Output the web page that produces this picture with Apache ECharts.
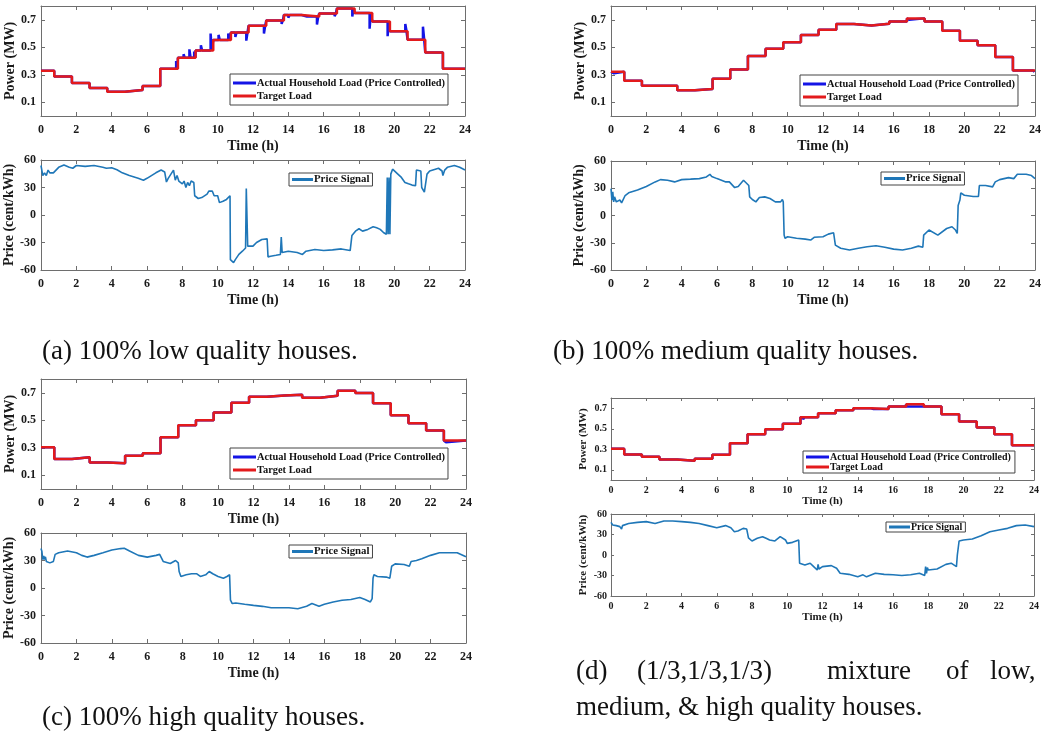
<!DOCTYPE html>
<html>
<head>
<meta charset="utf-8">
<script src="https://cdn.jsdelivr.net/npm/echarts@6/dist/echarts.min.js"></script>
<style>
html, body { margin: 0; padding: 0; background: #fff; }
#main { width: 1043px; height: 746px; }
</style>
</head>
<body>
<div id="main"></div>
<script>
// hour at which each load step starts
var hourSteps = [0, 0.75, 1.75, 2.75, 3.75, 4.75, 5.75, 6.75, 7.75, 8.75, 9.75, 10.75,
  11.75, 12.75, 13.75, 14.75, 15.75, 16.75, 17.75, 18.75, 19.75, 20.75, 21.75, 22.75];

// target load levels (MW)
var loadA = [0.33, 0.288, 0.24, 0.204, 0.177, 0.189, 0.218, 0.343, 0.423, 0.476, 0.553, 0.608,
  0.657, 0.695, 0.734, 0.724, 0.746, 0.782, 0.75, 0.688, 0.616, 0.555, 0.461, 0.343];
var loadB = [0.322, 0.257, 0.22, 0.22, 0.187, 0.196, 0.271, 0.339, 0.437, 0.49, 0.536, 0.589,
  0.628, 0.669, 0.659, 0.671, 0.688, 0.71, 0.688, 0.62, 0.548, 0.514, 0.43, 0.331];
var loadC = [0.304, 0.219, 0.231, 0.193, 0.188, 0.241, 0.26, 0.376, 0.463, 0.5, 0.557, 0.628,
  0.671, 0.68, 0.685, 0.664, 0.678, 0.714, 0.698, 0.623, 0.536, 0.478, 0.425, 0.352];
var loadD = [0.305, 0.25, 0.227, 0.2, 0.188, 0.208, 0.247, 0.358, 0.446, 0.495, 0.55, 0.612,
  0.651, 0.68, 0.7, 0.693, 0.716, 0.739, 0.716, 0.641, 0.57, 0.513, 0.446, 0.338];

// where the actual load leaves the target: [hour, MW]
var spikesA = [[7.65, 0.40], [8.07, 0.45], [8.4, 0.485], [8.67, 0.47], [9.05, 0.515], [9.6, 0.60],
  [10.05, 0.59], [10.6, 0.60], [11.0, 0.575], [11.62, 0.548], [12.62, 0.60], [13.62, 0.67],
  [14.0, 0.715], [15.05, 0.71], [15.62, 0.665], [16.62, 0.726], [17.1, 0.77], [17.62, 0.724],
  [18.6, 0.635], [19.62, 0.58], [20.62, 0.67], [21.62, 0.65], [22.9, 0.33]];
var spikesB = [[0.1, 0.31], [16.8, 0.70], [22.6, 0.42], [23.9, 0.32]];
var spikesC = [[22.8, 0.34]];
var spikesD = [[10.9, 0.59], [11.95, 0.64], [14.9, 0.68], [16.7, 0.72], [18.9, 0.625]];

// price signal: [hour, cent/kWh]
var priceA = [[0, 54], [0.1, 43], [0.2, 46], [0.3, 43], [0.4, 49], [0.5, 46], [0.7, 46], [1.0, 52],
  [1.3, 54.5], [1.6, 52], [1.8, 51], [2.0, 54], [2.5, 53], [3.0, 54], [3.5, 52], [3.7, 51], [4.0, 51.6],
  [4.3, 49.4], [4.6, 46], [5.0, 43], [5.5, 40], [5.8, 38], [6.0, 40], [6.5, 46], [6.8, 49], [7.0, 47],
  [7.1, 36], [7.2, 40], [7.3, 43], [7.4, 46], [7.5, 49], [7.6, 38], [7.7, 43], [7.8, 37], [8.0, 34],
  [8.1, 37], [8.2, 30], [8.3, 35.5], [8.4, 32], [8.5, 37], [8.6, 39], [8.65, 35.5], [8.7, 21], [8.9, 18],
  [9.1, 19], [9.2, 17], [9.4, 22.7], [9.5, 26], [9.6, 24.5], [9.7, 26], [9.8, 21], [10.0, 21], [10.1, 13.5],
  [10.3, 15], [10.5, 17], [10.6, 19], [10.7, 21], [10.72, -48.7], [10.8, -47], [10.9, -52], [11.0, -48.7],
  [11.2, -43], [11.4, -39.5], [11.58, -36], [11.62, 29], [11.67, 29], [11.7, -34], [11.8, -33], [12.0, -34],
  [12.2, -30], [12.5, -26.7], [12.8, -26], [12.85, -45.7], [13.0, -45], [13.3, -44], [13.55, -43],
  [13.6, -24], [13.65, -41], [14.0, -39.5], [14.5, -41], [14.8, -43], [15.0, -39.5], [15.5, -37.7],
  [16.0, -38.8], [16.5, -38], [17.0, -37], [17.5, -38.8], [17.6, -22.3], [17.8, -17.6], [18.0, -15],
  [18.2, -17.6], [18.5, -15.7], [18.8, -12.8], [19.0, -14], [19.2, -15.7], [19.4, -19.4], [19.55, -21],
  [19.6, 41], [19.65, -21], [19.7, 41], [19.75, -21], [19.8, 44.6], [19.9, 50], [20.0, 49], [20.2, 44.6],
  [20.4, 41], [20.6, 35.5], [20.8, 34], [21.0, 32.6], [21.2, 32], [21.25, 49], [21.5, 48], [21.55, 30],
  [21.7, 25], [21.8, 24.5], [21.85, 44.6], [22.0, 48], [22.5, 51], [22.7, 48], [22.75, 43], [22.85, 49],
  [23.0, 52], [23.4, 54], [23.7, 52], [24.0, 49]];
var priceB = [[0, 29.6], [0.05, 17], [0.1, 26], [0.15, 15], [0.2, 20.5], [0.3, 15], [0.5, 17], [0.6, 14],
  [0.8, 22], [1.0, 25], [1.5, 28], [2.0, 32], [2.5, 37], [2.8, 39.5], [3.2, 38.8], [3.6, 37], [4.0, 39.5],
  [4.5, 40], [5.0, 40.6], [5.4, 42.4], [5.6, 45.4], [5.7, 43], [6.0, 40.6], [6.5, 37], [6.7, 37], [7.0, 30.7],
  [7.2, 32], [7.5, 38.8], [7.6, 41], [7.8, 33], [7.85, 20.5], [8.0, 17.6], [8.2, 15], [8.4, 19.8], [8.7, 20.5],
  [9.0, 18.7], [9.3, 15], [9.6, 15], [9.7, 17.6], [9.75, 15], [9.8, -21.6], [9.85, -25], [10.0, -23.4],
  [10.5, -25], [11.0, -26], [11.3, -27], [11.5, -24], [12.0, -23.4], [12.3, -20.5], [12.6, -19], [12.65, -20],
  [12.7, -32.6], [13.0, -36], [13.5, -38], [14.0, -36], [14.5, -34.4], [15.0, -33.3], [15.5, -35], [16.0, -37],
  [16.5, -38], [17.0, -36], [17.4, -33.7], [17.65, -35], [17.7, -21.6], [18.0, -16], [18.5, -21.6],
  [19.0, -14.3], [19.3, -12.4], [19.5, -16], [19.6, -19.8], [19.65, 11], [19.75, 17], [19.8, 25], [20.0, 22.3],
  [20.5, 21], [20.8, 21], [20.85, 33], [21.2, 33], [21.6, 31.5], [21.75, 37], [22.0, 39.5], [22.5, 41.7],
  [22.8, 40.6], [23.0, 45.4], [23.5, 45.4], [23.8, 44], [24.0, 40.6]];
var priceC = [[0, 43], [0.05, 40], [0.1, 31], [0.15, 35], [0.2, 31], [0.25, 34], [0.3, 29], [0.5, 27.4],
  [0.6, 25.6], [0.7, 29], [0.8, 36.7], [1.0, 38.5], [1.5, 40.4], [2.0, 38.5], [2.3, 35.6], [2.6, 33.7],
  [3.0, 35.6], [3.5, 38.5], [4.0, 41.5], [4.5, 43], [4.7, 43.3], [5.0, 40.4], [5.5, 35.6], [6.0, 33.7],
  [6.5, 35.6], [6.7, 36.7], [6.9, 29], [7.0, 27.4], [7.3, 26.7], [7.6, 30], [7.75, 27.4], [7.8, 18],
  [7.9, 12.6], [8.2, 14.4], [8.5, 15.5], [8.8, 15.5], [9.0, 12.6], [9.3, 14.4], [9.5, 18], [9.7, 15.5],
  [10.0, 12.6], [10.3, 10.7], [10.5, 12.6], [10.65, 14.4], [10.7, -13.3], [10.8, -17], [11.0, -16.3],
  [11.5, -17.8], [12.0, -19], [12.5, -20], [13.0, -21.5], [13.5, -21.5], [14.0, -21.5], [14.5, -22.6],
  [15.0, -20], [15.3, -17], [15.7, -20], [16.0, -17.8], [16.5, -15.2], [17.0, -13.3], [17.5, -12.6],
  [18.0, -10.4], [18.3, -12.6], [18.6, -15.2], [18.7, -11.5], [18.75, 10.7], [18.8, 14.4], [19.0, 12.6],
  [19.5, 11.9], [19.7, 10.7], [19.8, 23.7], [20.0, 26.3], [20.5, 25.6], [20.8, 23.7], [20.9, 29], [21.2, 30],
  [21.5, 31.9], [22.0, 35.6], [22.5, 38.5], [23.0, 38.5], [23.5, 38.5], [24.0, 34]];
var priceD = [[0, 47.8], [0.1, 44], [0.3, 43], [0.5, 41.5], [0.6, 38], [0.65, 43], [1.0, 46], [1.5, 47.8],
  [2.0, 48.8], [2.5, 46], [3.0, 49.8], [3.5, 49.8], [4.0, 48.8], [4.5, 47.8], [5.0, 46], [5.5, 43], [6.0, 40],
  [6.5, 43], [6.8, 40], [7.0, 34], [7.2, 35], [7.5, 39], [7.7, 38], [7.8, 25], [8.0, 20.5], [8.3, 24.4],
  [8.6, 26.8], [8.8, 24.4], [9.0, 22], [9.3, 20.5], [9.6, 26.8], [9.9, 22], [10.0, 17], [10.3, 18.5],
  [10.5, 20.5], [10.65, 22], [10.7, -12], [11.0, -14.6], [11.3, -12], [11.5, -17], [11.7, -22], [11.75, -13.7],
  [11.8, -20.5], [12.0, -17], [12.5, -15.6], [12.8, -19.5], [13.0, -26.8], [13.5, -28.3], [14.0, -31.7],
  [14.3, -29], [14.5, -32], [15.0, -26.8], [15.5, -28.3], [16.0, -29], [16.5, -30], [17.0, -29], [17.5, -26.8],
  [17.8, -30], [17.85, -17], [17.9, -26.8], [17.95, -18.5], [18.0, -22], [18.5, -20.5], [19.0, -13.7],
  [19.3, -12], [19.6, -17], [19.65, 0], [19.7, 2.4], [19.75, 20.5], [20.0, 22], [20.5, 23.4], [21.0, 28.3],
  [21.5, 34], [22.0, 36.6], [22.5, 39], [23.0, 43], [23.5, 44], [24.0, 41.5]];

var powerTicks = [0.1, 0.3, 0.5, 0.7];
var actualName = 'Actual Household Load (Price Controlled)';
var targetName = 'Target Load';
var priceName = 'Price Signal';

var serif = '"Liberation Serif", "Times New Roman", serif';
var axisColor = '#6e6e6e';

function stepData(levels) {
  var d = hourSteps.map(function (h, i) { return [h, levels[i]]; });
  d.push([24, levels[levels.length - 1]]);
  return d;
}
function levelAt(levels, t) {
  var k = 0;
  for (var i = 0; i < hourSteps.length; i++) { if (hourSteps[i] <= t) k = i; }
  return levels[k];
}
function actualData(levels, spikes) {
  var d = stepData(levels);
  spikes.forEach(function (s) {
    d.push([s[0], s[1]]);
    d.push([s[0] + 0.07, levelAt(levels, s[0])]);
  });
  d.sort(function (a, b) { return a[0] - b[0]; });
  return d;
}

var grids = [], xAxes = [], yAxes = [], series = [], legends = [];

function addAxes(rect, isPower, small) {
  var gi = grids.length;
  grids.push({ left: rect[0], top: rect[1], width: rect[2], height: rect[3], containLabel: false, outerBoundsMode: 'none' });
  var fs = small ? 10 : 12;
  var nfs = small ? 11 : 14;
  var tick = { show: true, inside: true, length: small ? 3 : 4, lineStyle: { color: axisColor } };
  var line = { show: true, onZero: false, lineStyle: { color: axisColor, width: 1 } };
  var lab = { color: '#1a1a1a', fontFamily: serif, fontWeight: 'bold', fontSize: fs };
  xAxes.push({
    gridIndex: gi, type: 'value', min: 0, max: 24, interval: 2, position: 'bottom',
    name: 'Time (h)', nameLocation: 'middle', nameGap: small ? 16 : 23,
    nameTextStyle: { color: '#1a1a1a', fontFamily: serif, fontWeight: 'bold', fontSize: nfs },
    axisLine: line, axisTick: tick, splitLine: { show: false },
    axisLabel: Object.assign({ margin: small ? 5 : 8 }, lab)
  });
  xAxes.push({
    gridIndex: gi, type: 'value', min: 0, max: 24, interval: 2, position: 'top',
    axisLine: line, axisTick: tick, axisLabel: { show: false }, splitLine: { show: false }
  });
  var yl = {
    gridIndex: gi, type: 'value', position: 'left',
    name: isPower ? 'Power (MW)' : 'Price (cent/kWh)', nameLocation: 'middle', nameGap: small ? 22 : 20,
    nameTextStyle: { color: '#1a1a1a', fontFamily: serif, fontWeight: 'bold', fontSize: nfs },
    axisLine: line, splitLine: { show: false },
    axisTick: Object.assign({}, tick),
    axisLabel: Object.assign({ margin: small ? 4 : 5 }, lab)
  };
  var yr = {
    gridIndex: gi, type: 'value', position: 'right',
    axisLine: line, splitLine: { show: false }, axisLabel: { show: false },
    axisTick: Object.assign({}, tick)
  };
  [yl, yr].forEach(function (y) {
    if (isPower) {
      y.min = 0; y.max = 0.8;
      y.axisTick.customValues = powerTicks;
      y.axisLabel.customValues = powerTicks;
      y.axisLabel.formatter = function (v) { return v.toFixed(1); };
    } else {
      y.min = -60; y.max = 60; y.interval = 30;
    }
  });
  yAxes.push(yl, yr);
  return gi;
}

function addPower(rect, levels, spikes, legendBox, small) {
  var gi = addAxes(rect, true, small);
  series.push({
    name: actualName, type: 'line', xAxisIndex: 2 * gi, yAxisIndex: 2 * gi, step: 'end',
    showSymbol: false, symbol: 'none', lineStyle: { color: '#1414e6', width: 2.5 }, itemStyle: { color: '#1414e6' },
    data: actualData(levels, spikes), z: 2, animation: false
  });
  series.push({
    name: targetName, type: 'line', xAxisIndex: 2 * gi, yAxisIndex: 2 * gi, step: 'end',
    showSymbol: false, symbol: 'none', lineStyle: { color: '#e31a1c', width: 2.5 }, itemStyle: { color: '#e31a1c' },
    data: stepData(levels), z: 3, animation: false
  });
  legends.push({
    data: [actualName, targetName], orient: 'vertical', left: legendBox[0], top: legendBox[1],
    itemWidth: 23, itemHeight: 3, icon: 'rect', itemGap: small ? 0 : 3,
    padding: small ? [1, 4, 1, 3] : [4, 3, 4, 3], borderColor: '#444', borderWidth: 1, backgroundColor: '#fff',
    textStyle: { fontFamily: serif, fontWeight: 'bold', fontSize: small ? 10 : 10.4, color: '#111', padding: [0, 0, 0, -4] },
    selectedMode: false
  });
}

function addPrice(rect, data, legendBox, small) {
  var gi = addAxes(rect, false, small);
  series.push({
    name: priceName, type: 'line', xAxisIndex: 2 * gi, yAxisIndex: 2 * gi,
    showSymbol: false, symbol: 'none', lineStyle: { color: '#1f77b8', width: 1.6 }, itemStyle: { color: '#1f77b8' },
    data: data, animation: false
  });
  legends.push({
    data: [priceName], orient: 'vertical', left: legendBox[0], top: legendBox[1],
    itemWidth: 21, itemHeight: 3, icon: 'rect',
    padding: small ? [0, 3, 0, 3] : [1, 3, 1, 3], borderColor: '#444', borderWidth: 1, backgroundColor: '#fff',
    textStyle: { fontFamily: serif, fontWeight: 'bold', fontSize: small ? 10 : 10.8, color: '#111', padding: [0, 0, 0, -4] },
    selectedMode: false
  });
}

addPower([41, 6, 424, 110], loadA, spikesA, [230, 74], false);
addPrice([41, 160, 424, 110], priceA, [289, 173], false);
addPower([611, 6, 424, 110], loadB, spikesB, [800, 75], false);
addPrice([611, 161, 424, 109], priceB, [881, 172], false);
addPower([41, 379, 425, 110], loadC, spikesC, [230, 448], false);
addPrice([41, 533, 425, 110], priceC, [289, 545], false);
addPower([611, 398, 423, 82], loadD, spikesD, [803, 451], true);
addPrice([611, 514, 423, 82], priceD, [886, 522], true);

var capFont = '27px ' + serif;
function caption(text, x, y) {
  return { type: 'text', x: x, y: y, style: { text: text, font: capFont, fill: '#111', verticalAlign: 'middle', align: 'left' } };
}

var option = {
  backgroundColor: '#fff',
  animation: false,
  grid: grids,
  xAxis: xAxes,
  yAxis: yAxes,
  legend: legends,
  series: series,
  graphic: [
    caption('(a) 100% low quality houses.', 42, 352),
    caption('(b) 100% medium quality houses.', 553, 352),
    caption('(c) 100% high quality houses.', 42, 718),
    caption('(d)', 576, 672),
    caption('(1/3,1/3,1/3)', 637, 672),
    caption('mixture', 827, 672),
    caption('of', 946, 672),
    caption('low,', 990, 672),
    caption('medium, & high quality houses.', 576, 708)
  ]
};

var chart = echarts.init(document.getElementById('main'));
chart.setOption(option);
</script>
</body>
</html>
